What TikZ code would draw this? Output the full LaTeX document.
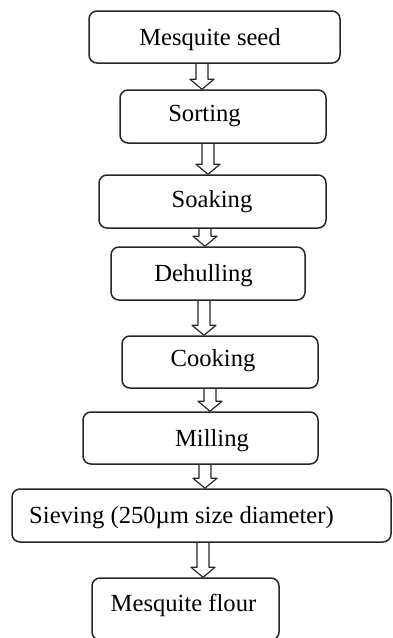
\documentclass[tikz,border=0pt]{standalone}
\usepackage{fontspec}
\setmainfont{Liberation Serif}
\usetikzlibrary{calc}

\begin{document}
\begin{tikzpicture}[x=1pt, y=1pt, line join=round, line cap=round,
			font=\fontsize{24.6}{29}\selectfont,
			stepbox/.style={draw=black!85, line width=1.5pt, rounded corners=8pt, inner sep=0pt},
			steptext/.style={inner sep=0pt, text height=16.3pt, text depth=0pt},
			hollowarrow/.style={draw=black!85, line width=1.2pt}]
			\useasboundingbox (0,0) rectangle (392,-638);
			\clip (0,0) rectangle (392,-638);
			% boxes: name/centre x/centre y/width/height
			\foreach \name/\cx/\cy/\w/\h in
			{seed/214.5/37/251/52, sorting/223/116.5/206/53, soaking/212.5/201.5/227/53,
				dehulling/208/273.5/194/53, cooking/220/362/196/52, milling/200.5/438/235/52,
				sieving/201.5/515.5/379/53, flour/185.5/609/187/62}
			{
				\node[stepbox, minimum width=\w, minimum height=\h] (\name) at (\cx,-\cy) {};}
			% texts
			\foreach \name/\tx/\ty/\txt in
			{seed/210/37/Mesquite seed, sorting/204.5/113/Sorting, soaking/212/199/Soaking,
				dehulling/203.5/273/Dehulling, cooking/213/358/Cooking, milling/212/438.5/Milling,
				sieving/181.5/515/{Sieving (250µm size diameter)}, flour/183.5/603/Mesquite flour}
			{
				\node[steptext] (\name-t) at (\tx,-\ty) {\txt};}
			% arrows between boxes
			\foreach \src/\ax/\dst in
			{seed/202/sorting, sorting/208/soaking, soaking/205/dehulling, dehulling/204/cooking,
				cooking/210/milling, milling/205/sieving, sieving/203/flour}
			{
				\draw[hollowarrow] let \p1=(\src.south), \p2=(\dst.north) in
				(\ax-6,\y1) -- (\ax-6,\y2+10) -- (\ax-12,\y2+10) -- (\ax,\y2)
				-- (\ax+12,\y2+10) -- (\ax+6,\y2+10) -- (\ax+6,\y1);}
		\end{tikzpicture}
\end{document}
